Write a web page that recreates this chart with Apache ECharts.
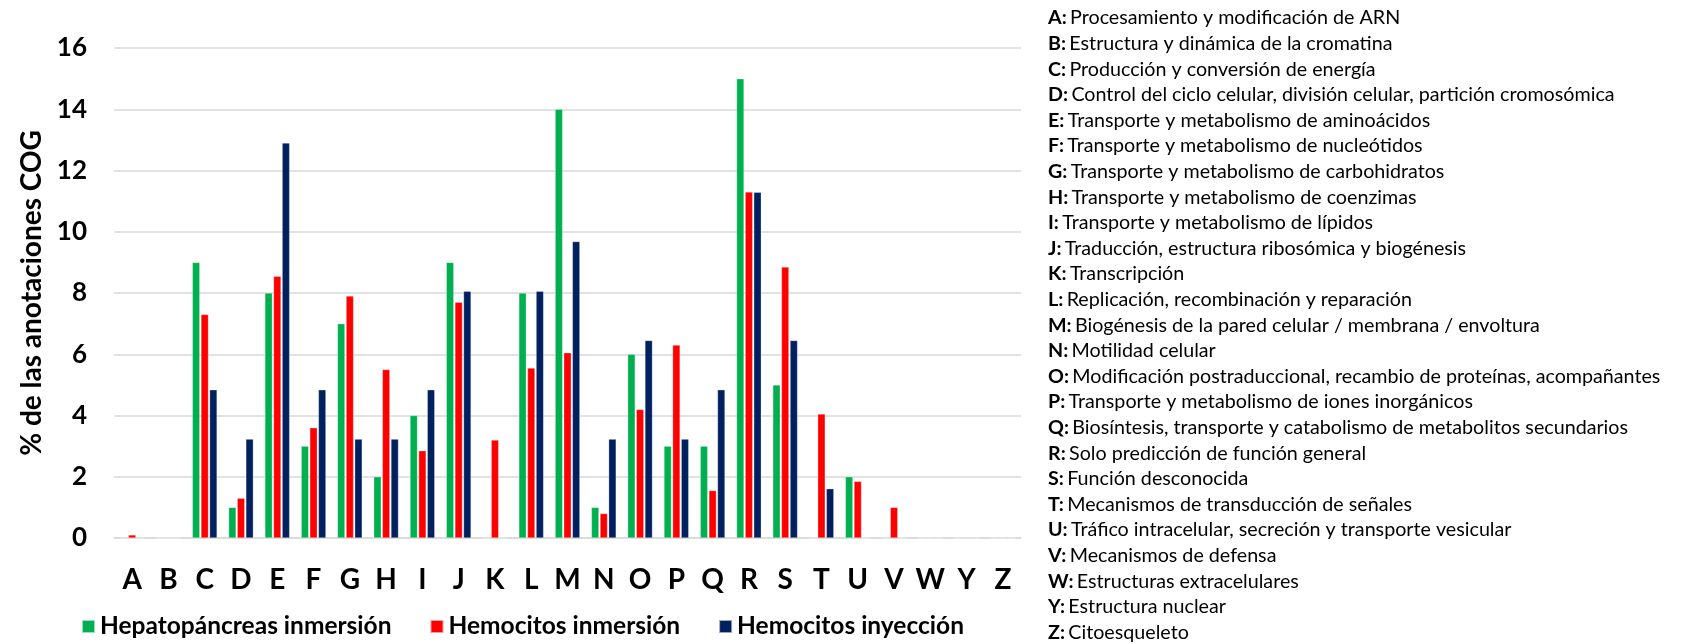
<!DOCTYPE html>
<html><head><meta charset="utf-8">
<script src="https://cdn.jsdelivr.net/npm/echarts@6/dist/echarts.min.js"></script>
<style>html,body{margin:0;padding:0;background:#fff}#c{width:1685px;height:644px}</style>
</head><body><div id="c"></div>
<script>
const categories = ['A','B','C','D','E','F','G','H','I','J','K','L','M','N','O','P','Q','R','S','T','U','V','W','Y','Z'];
const hepatoInmersion = [0,0,9,1,8,3,7,2,4,9,0,8,14,1,6,3,3,15,5,0,2,0,0,0,0];
const hemoInmersion = [0.1,0,7.3,1.3,8.55,3.6,7.9,5.5,2.85,7.7,3.2,5.55,6.05,0.8,4.2,6.3,1.55,11.3,8.85,4.05,1.85,1.0,0,0,0];
const hemoInyeccion = [0,0,4.84,3.23,12.9,4.84,3.23,3.23,4.84,8.06,0,8.06,9.68,3.23,6.45,3.23,4.84,11.29,6.45,1.61,0,0,0,0,0];
const seriesNames = ['Hepatopáncreas inmersión','Hemocitos inmersión','Hemocitos inyección'];
const yTicks = [0,2,4,6,8,10,12,14,16];
const descriptions = [
 'Procesamiento y modificación de ARN',
 'Estructura y dinámica de la cromatina',
 'Producción y conversión de energía',
 'Control del ciclo celular, división celular, partición cromosómica',
 'Transporte y metabolismo de aminoácidos',
 'Transporte y metabolismo de nucleótidos',
 'Transporte y metabolismo de carbohidratos',
 'Transporte y metabolismo de coenzimas',
 'Transporte y metabolismo de lípidos',
 'Traducción, estructura ribosómica y biogénesis',
 'Transcripción',
 'Replicación, recombinación y reparación',
 'Biogénesis de la pared celular / membrana / envoltura',
 'Motilidad celular',
 'Modificación postraduccional, recambio de proteínas, acompañantes',
 'Transporte y metabolismo de iones inorgánicos',
 'Biosíntesis, transporte y catabolismo de metabolitos secundarios',
 'Solo predicción de función general',
 'Función desconocida',
 'Mecanismos de transducción de señales',
 'Tráfico intracelular, secreción y transporte vesicular',
 'Mecanismos de defensa',
 'Estructuras extracelulares',
 'Estructura nuclear',
 'Citoesqueleto'
];
const colors = ['#00b050','#ff0000','#002060'];
const FONT = 'Lato';
const chart = echarts.init(document.getElementById('c'));
const textEls = descriptions.map((d,i)=>({
  type:'text', left:1048, top:8 + i*25.6,
  style:{rich:{b:{fontWeight:'bold',fontFamily:FONT,fontSize:19.7,fill:'#000'},n:{fontFamily:FONT,fontSize:19.7,fill:'#000'}},
    text:'{b|'+categories[i]+':} {n|'+d+'}'}
}));
const mk = (k,data)=>({
  name:seriesNames[k], type:'bar', data:data, barWidth:7.5, barGap:'15%',
  itemStyle:{color:colors[k], borderColor:'rgba(255,255,255,0.6)', borderWidth:0.5}
});
chart.setOption({
  animation:false,
  grid:{left:114,right:664,top:48,bottom:106},
  legend:{left:76,top:609,itemWidth:13,itemHeight:13,itemGap:38,icon:'rect',
    textStyle:{fontFamily:FONT,fontWeight:'bold',fontSize:24.5,color:'#000'},
    data:seriesNames},
  xAxis:{type:'category',data:categories,
    axisLine:{lineStyle:{color:'#d9d9d9',width:1.5}},axisTick:{show:false},
    axisLabel:{fontFamily:FONT,fontWeight:'bold',fontSize:28,color:'#000',margin:28,interval:0}},
  yAxis:{type:'value',min:yTicks[0],max:yTicks[yTicks.length-1],interval:2,
    name:'% de las anotaciones COG',nameLocation:'middle',nameGap:52,
    nameTextStyle:{fontFamily:FONT,fontWeight:'bold',fontSize:28,color:'#000'},
    axisLine:{show:false},axisTick:{show:false},
    splitLine:{lineStyle:{color:'#d9d9d9',width:1.5}},
    axisLabel:{fontFamily:FONT,fontWeight:'bold',fontSize:26,color:'#000',margin:27}},
  graphic:textEls,
  series:[mk(0,hepatoInmersion),mk(1,hemoInmersion),mk(2,hemoInyeccion)]
});
</script></body></html>
